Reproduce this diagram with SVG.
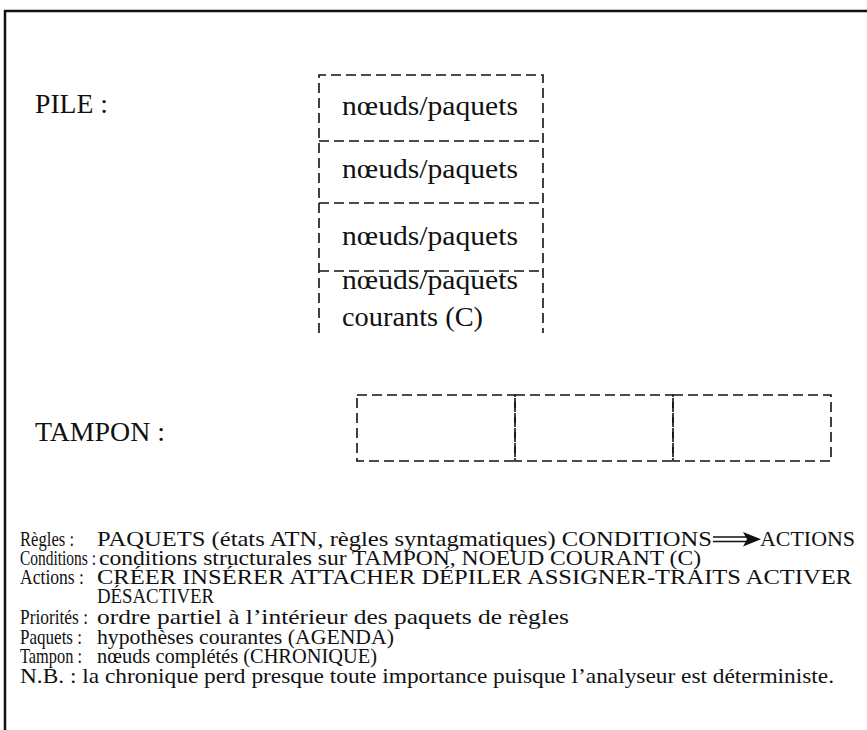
<svg xmlns="http://www.w3.org/2000/svg" width="867" height="730" viewBox="0 0 867 730">
<style>
.frame{stroke:#111;stroke-width:2.5;fill:none}
.dash{stroke:#111;stroke-width:1.6;fill:none;stroke-dasharray:10 5}
.big{font-family:"Liberation Serif","Times New Roman",serif;font-size:27px;fill:#111}
.sm{font-family:"Liberation Serif","Times New Roman",serif;font-size:21.5px;fill:#111}
</style>
<rect width="867" height="730" fill="#fff"/>
<g id="frame">
<line class="frame" x1="4" y1="11" x2="867" y2="11"/>
<line class="frame" x1="5" y1="10" x2="5" y2="730"/>
</g>
<g id="labels">
<text class="big" x="35" y="113" textLength="73" lengthAdjust="spacingAndGlyphs">PILE :</text>
<text class="big" x="35" y="441" textLength="130" lengthAdjust="spacingAndGlyphs">TAMPON :</text>
</g>
<g id="pile">
<g id="pile-1">
<path class="dash" d="M319 333 V75 H543 V333"/>
<text class="big" x="342" y="115" textLength="176" lengthAdjust="spacingAndGlyphs">nœuds/paquets</text>
</g>
<g id="pile-2">
<line class="dash" x1="319" y1="141" x2="543" y2="141"/>
<text class="big" x="342" y="178" textLength="176" lengthAdjust="spacingAndGlyphs">nœuds/paquets</text>
</g>
<g id="pile-3">
<line class="dash" x1="319" y1="203" x2="543" y2="203"/>
<text class="big" x="342" y="245" textLength="176" lengthAdjust="spacingAndGlyphs">nœuds/paquets</text>
</g>
<g id="pile-4">
<line class="dash" x1="319" y1="271" x2="543" y2="271"/>
<text class="big" x="342" y="289" textLength="176" lengthAdjust="spacingAndGlyphs">nœuds/paquets</text>
<text class="big" x="342" y="326" textLength="141" lengthAdjust="spacingAndGlyphs">courants (C)</text>
</g>
</g>
<g id="tampon">
<g id="tampon-1"><rect class="dash" x="357" y="395" width="158" height="66"/></g>
<g id="tampon-2"><rect class="dash" x="515" y="395" width="158" height="66"/></g>
<g id="tampon-3"><rect class="dash" x="673" y="395" width="158" height="66"/></g>
</g>
<g id="legend">
<text class="sm" x="20" y="546" textLength="54" lengthAdjust="spacingAndGlyphs">Règles :</text>
<text class="sm" x="97" y="546" textLength="615" lengthAdjust="spacingAndGlyphs">PAQUETS (états ATN, règles syntagmatiques) CONDITIONS</text>
<text class="sm" x="760" y="546" textLength="95" lengthAdjust="spacingAndGlyphs">ACTIONS</text>
<text class="sm" x="20" y="565" textLength="76" lengthAdjust="spacingAndGlyphs">Conditions :</text>
<text class="sm" x="99" y="565" textLength="602" lengthAdjust="spacingAndGlyphs">conditions structurales sur TAMPON, NOEUD COURANT (C)</text>
<text class="sm" x="20" y="584" textLength="64" lengthAdjust="spacingAndGlyphs">Actions :</text>
<text class="sm" x="97" y="584" textLength="755" lengthAdjust="spacingAndGlyphs">CRÉER INSÉRER ATTACHER DÉPILER ASSIGNER-TRAITS ACTIVER</text>
<text class="sm" x="97" y="603" textLength="117" lengthAdjust="spacingAndGlyphs">DÉSACTIVER</text>
<text class="sm" x="20" y="624" textLength="68" lengthAdjust="spacingAndGlyphs">Priorités :</text>
<text class="sm" x="97" y="624" textLength="472" lengthAdjust="spacingAndGlyphs">ordre partiel à l’intérieur des paquets de règles</text>
<text class="sm" x="20" y="644" textLength="62" lengthAdjust="spacingAndGlyphs">Paquets :</text>
<text class="sm" x="97" y="644" textLength="297" lengthAdjust="spacingAndGlyphs">hypothèses courantes (AGENDA)</text>
<text class="sm" x="20" y="663" textLength="62" lengthAdjust="spacingAndGlyphs">Tampon :</text>
<text class="sm" x="97" y="663" textLength="280" lengthAdjust="spacingAndGlyphs">nœuds complétés (CHRONIQUE)</text>
<text class="sm" x="20" y="683" textLength="814" lengthAdjust="spacingAndGlyphs">N.B. : la chronique perd presque toute importance puisque l’analyseur est déterministe.</text>
</g>
<g id="connectors">
<line x1="713" y1="537" x2="748" y2="537" stroke="#111" stroke-width="1.4"/>
<line x1="713" y1="541.5" x2="748" y2="541.5" stroke="#111" stroke-width="1.4"/>
<path d="M743 532 L761 539.3 L743 546.5 L747 539.3 Z" fill="#111"/>
</g>
</svg>
